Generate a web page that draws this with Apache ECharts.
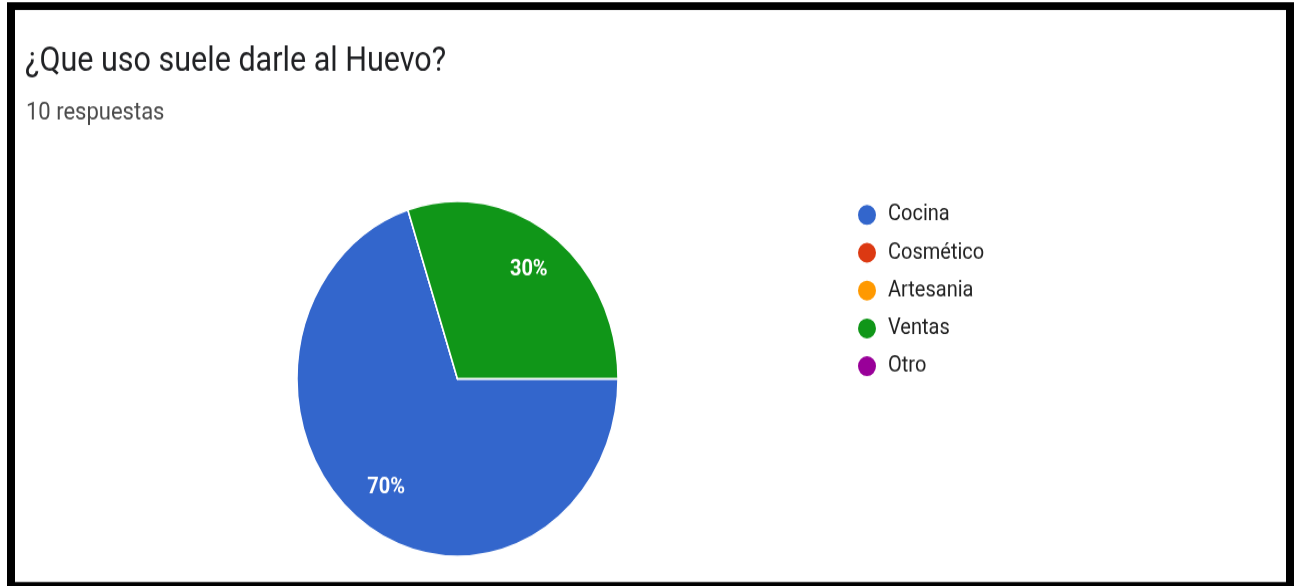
<!DOCTYPE html>
<html>
<head>
<meta charset="utf-8">
<script src="https://cdn.jsdelivr.net/npm/echarts@6/dist/echarts.min.js"></script>
<style>
  html, body { margin: 0; padding: 0; background: #fff; overflow: hidden; }
  #wrap { width: 1296px; height: 586px; overflow: hidden; background: #fff; }
  /* chart is drawn at 1296x530 and stretched to the page height */
  #chart { width: 1296px; height: 530px; transform: scaleY(1.106); transform-origin: 0 0; }
</style>
</head>
<body>
<div id="wrap"><div id="chart"></div></div>
<script>
const titleText = '¿Que uso suele darle al Huevo?';
const subtitleText = '10 respuestas';
const categories = ['Cocina', 'Cosmético', 'Artesania', 'Ventas', 'Otro'];
const responses = [7, 0, 0, 3, 0];
const palette = ['#3366cc', '#dc3912', '#ff9900', '#109618', '#990099'];

const FONT = 'Roboto, "Liberation Sans", Arial, sans-serif';
const chart = echarts.init(document.getElementById('chart'));

const pieData = categories.map((name, i) => ({
  name: name,
  value: responses[i],
  itemStyle: { color: palette[i] }
}));

const labelData = categories.map((name, i) => ({ name: name, value: responses[i] }));

const pctLabel = p => p.value > 0 ? Math.round(p.percent) + '%' : '';

chart.setOption({
  backgroundColor: '#ffffff',
  animation: false,
  title: [
    {
      text: titleText, left: 20, top: 36,
      textStyle: { fontFamily: FONT, fontSize: 30.5, fontWeight: 'normal', color: '#202124' }
    },
    {
      text: subtitleText, left: 21, top: 86,
      textStyle: { fontFamily: FONT, fontSize: 22, fontWeight: 'normal', color: '#4a4a4a' }
    }
  ],
  legend: {
    orient: 'vertical',
    left: 851,
    top: 178.3,
    icon: 'circle',
    itemWidth: 20,
    itemHeight: 20,
    itemGap: 12.2,
    data: categories,
    selectedMode: false,
    textStyle: { fontFamily: FONT, fontSize: 20, color: '#222', padding: [0, 0, 0, 6], lineHeight: 20 }
  },
  graphic: [
    // frame around the card
    { type: 'rect', shape: { x: 7, y: 2, width: 1287, height: 7 }, style: { fill: '#000' } },
    { type: 'rect', shape: { x: 7, y: 2, width: 8, height: 530 }, style: { fill: '#000' } },
    { type: 'rect', shape: { x: 1286, y: 2, width: 8, height: 530 }, style: { fill: '#000' } },
    { type: 'rect', shape: { x: 7, y: 526.3, width: 1287, height: 5 }, style: { fill: '#000' } }
  ],
  series: [
    {
      type: 'pie',
      center: [457.5, 342.5],
      radius: [0, 160.5],
      startAngle: 0,
      clockwise: true,
      silent: true,
      data: pieData,
      label: { show: false },
      labelLine: { show: false },
      itemStyle: { borderColor: '#ffffff', borderWidth: 1.5 }
    },
    {
      type: 'pie',
      center: [457.5, 342.5],
      radius: [76, 160.5],
      startAngle: 0,
      clockwise: true,
      silent: true,
      data: labelData,
      itemStyle: { color: 'rgba(0,0,0,0)', borderWidth: 0 },
      label: {
        show: true,
        position: 'inside',
        formatter: pctLabel,
        fontFamily: FONT,
        fontSize: 20,
        fontWeight: 'bold',
        color: '#ffffff'
      },
      labelLine: { show: false }
    }
  ]
});
</script>
</body>
</html>
